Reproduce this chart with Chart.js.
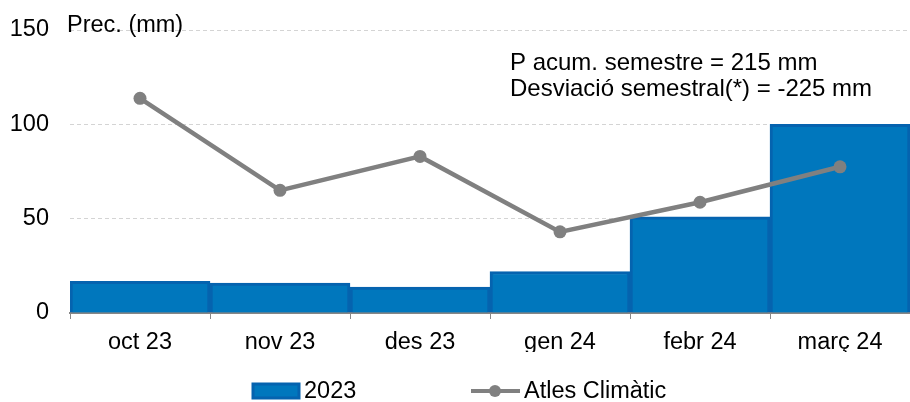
<!DOCTYPE html>
<html>
<head>
<meta charset="utf-8">
<script src="https://cdn.jsdelivr.net/npm/chart.js@4"></script>
<style>
  html, body { margin: 0; padding: 0; background: #fff; }
  #wrap { width: 910px; height: 402px; }
</style>
</head>
<body>
<div id="wrap"><canvas id="chart" width="910" height="402"></canvas></div>
<script>
// data
const months = ['oct 23', 'nov 23', 'des 23', 'gen 24', 'febr 24', 'març 24'];
const precip2023 = [16.8, 15.8, 13.8, 22, 51, 100];
const atlesClimatic = [113.8, 65, 83, 43, 58.7, 77.5];
const yTicks = [0, 50, 100, 150];
const seriesNames = ['2023', 'Atles Climàtic'];
const notes = ['P acum. semestre = 215 mm', 'Desviació semestral(*) = -225 mm'];
const axisTitle = 'Prec. (mm)';

const FAMILY = '"Liberation Sans", Arial, sans-serif';
const FONT = '23.5px ' + FAMILY;
const barFill = '#0077bd';
const barEdge = '#0563af';
const lineGray = '#808080';

// text over the plot + the legend at the bottom
const extras = {
    id: 'extras',
    afterDraw(chart) {
        const ctx = chart.ctx;
        const area = chart.chartArea;
        const byLabel = name => chart.data.datasets.find(d => d.label === name);
        ctx.save();
        ctx.font = FONT;
        ctx.fillStyle = '#000';
        ctx.textBaseline = 'alphabetic';
        ctx.textAlign = 'left';
        ctx.fillText(axisTitle, area.left - 3, 32);
        ctx.font = '24px ' + FAMILY;
        ctx.fillText(notes[0], 510, 70);
        ctx.fillText(notes[1], 510, 96);
        ctx.font = FONT;

        // legend
        const ly = 391;
        const bars = byLabel(seriesNames[0]);
        const line = byLabel(seriesNames[1]);
        ctx.fillStyle = bars.backgroundColor;
        ctx.strokeStyle = bars.borderColor;
        ctx.lineWidth = 3;
        ctx.fillRect(253, ly - 7, 46, 14);
        ctx.strokeRect(253, ly - 7, 46, 14);
        ctx.strokeStyle = line.borderColor;
        ctx.lineWidth = 4;
        ctx.beginPath();
        ctx.moveTo(471, ly);
        ctx.lineTo(520, ly);
        ctx.stroke();
        ctx.fillStyle = line.borderColor;
        ctx.beginPath();
        ctx.arc(495, ly, 6, 0, Math.PI * 2);
        ctx.fill();
        ctx.fillStyle = '#000';
        ctx.textBaseline = 'middle';
        ctx.fillText(bars.label, 304, ly + 1);
        ctx.fillText(line.label, 524, ly + 1);
        ctx.restore();
    }
};

new Chart(document.getElementById('chart'), {
    data: {
        labels: months,
        datasets: [
            {
                type: 'line',
                label: seriesNames[1],
                data: atlesClimatic,
                borderColor: lineGray,
                backgroundColor: lineGray,
                borderWidth: 4.5,
                pointRadius: 6.5,
                pointHoverRadius: 6.5,
                pointBackgroundColor: lineGray,
                pointBorderWidth: 0,
                order: 0
            },
            {
                type: 'bar',
                label: seriesNames[0],
                data: precip2023,
                backgroundColor: barFill,
                borderColor: barEdge,
                borderWidth: 3,
                barPercentage: 1,
                categoryPercentage: 1,
                order: 1
            }
        ]
    },
    options: {
        responsive: false,
        animation: false,
        devicePixelRatio: 1,
        layout: { autoPadding: false, padding: { top: 30, right: -3, bottom: 50, left: 0 } },
        scales: {
            x: {
                offset: true,
                grid: {
                    offset: true,
                    drawOnChartArea: false,
                    drawTicks: true,
                    tickLength: 6,
                    color: '#888'
                },
                border: { display: true, color: '#868686', width: 2 },
                ticks: {
                    color: '#000',
                    font: { family: FAMILY, size: 23.5 },
                    padding: 9,
                    maxRotation: 0,
                    autoSkip: false
                },
                afterFit(s) { s.height = 39; }
            },
            y: {
                min: 0,
                max: 150,
                afterBuildTicks(s) { s.ticks = yTicks.map(v => ({ value: v })); },
                grid: {
                    drawTicks: false,
                    color: '#d4d4d4',
                    lineWidth: 1
                },
                border: { display: false, dash: [4, 3] },
                ticks: {
                    color: '#000',
                    font: { family: FAMILY, size: 23.5 },
                    padding: 21
                },
                afterFit(s) {
                    s.width = 70;
                    s.paddingTop = 0;
                    s.paddingBottom = 0;
                }
            }
        },
        plugins: {
            legend: { display: false },
            tooltip: { enabled: false }
        }
    },
    plugins: [extras]
});
</script>
</body>
</html>
